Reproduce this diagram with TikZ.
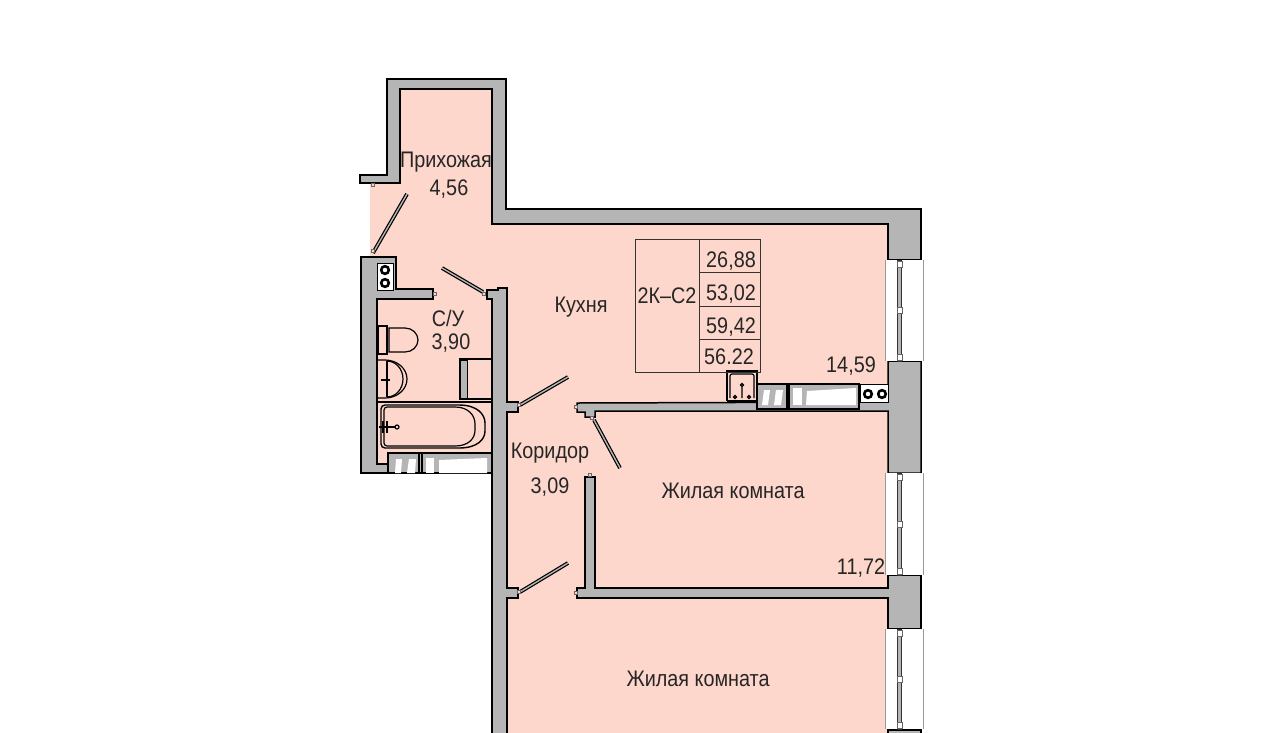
\documentclass[tikz,border=0pt]{standalone}
\usepackage{fontspec}
\setmainfont[FakeStretch=0.88]{Liberation Sans}
\definecolor{roompink}{RGB}{253, 214, 204}
\definecolor{wallgray}{RGB}{181, 181, 181}
\begin{document}
\begin{tikzpicture}[
        x=1pt, y=-1pt,
        wall/.style={draw=black, fill=wallgray, line width=1.5pt, line join=miter},
        roomlabel/.style={inner sep=0pt, yshift=-1.5pt, font=\fontsize{22.5}{24}\selectfont, text=black!85},
        doorleaf/.style={draw=black, line width=1.2pt, double=wallgray, double distance=1.4pt},
        fixture/.style={draw=black, line width=1.2pt},
        duct/.style={draw=black, fill=wallgray, line width=1.5pt},
        jamb/.style={draw=black!60, fill=roompink, line width=0.5pt},
        gridline/.style={draw=black!80, line width=0.9pt}
    ]
        \useasboundingbox (0,0) rectangle (1280,732);
        \clip (0,0) rectangle (1280,732);
        \fill[white] (0,0) rectangle (1280,732);

        % Room floor
        \fill[roompink] (392,85) -- (500,85) -- (500,215) -- (900,215) -- (900,740) -- (500,740)
            -- (500,470) -- (370,470) -- (370,180) -- (392,180) -- cycle;

        % Outer wall
        \draw[wall] (387,79) -- (506,79) -- (506,209) -- (921,209) -- (921,260) -- (888,260) -- (888,224)
            -- (492,224) -- (492,89) -- (400,89) -- (400,183) -- (360,183) -- (360,175) -- (387,175) -- cycle;

        % Bathroom and corridor wall
        \draw[wall] (361,257) -- (396,257) -- (396,289) -- (433,289) -- (433,299) -- (377,299) -- (377,464)
            -- (388,464) -- (388,453) -- (492,453) -- (492,299) -- (487,299) -- (487,290) -- (498,290)
            -- (498,288) -- (507,288) -- (507,402) -- (518,402) -- (518,412) -- (507,412) -- (507,588)
            -- (518,588) -- (518,598) -- (507,598) -- (507,740) -- (492,740) -- (492,473) -- (361,473) -- cycle;

        % Kitchen partition
        \draw[wall] (888,361) -- (921,361) -- (921,473) -- (888,473) -- (888,411) -- (595,411) -- (595,417)
            -- (585,417) -- (585,412) -- (577,412) -- (577,403) -- (888,402) -- cycle;

        % Room partition
        \draw[wall] (888,575) -- (921,575) -- (921,629) -- (888,629) -- (888,598) -- (577,598) -- (577,588)
            -- (585,588) -- (585,477) -- (595,477) -- (595,588) -- (888,588) -- cycle;
        \draw[wall] (888,730) rectangle (921,740);

        % Windows
        \foreach \ytop/\ybot in {260/361, 473/575, 629/729} {
            \fill[white] (885,\ytop) rectangle (923,\ybot);
            \draw[black!40, line width=0.5pt] (885,\ytop) -- (885,\ybot) (923,\ytop) -- (923,\ybot);
            \draw[draw=black!80, fill=wallgray, line width=0.8pt] (897,\ytop) rectangle (901,\ybot);
            \pgfmathsetmacro\ymid{(\ytop+\ybot)/2}
            \foreach \ywin in {\ytop+4, \ymid, \ybot-4} {
                \draw[jamb, fill=white] (897,\ywin-3) rectangle (902,\ywin+3);
            }
        }

        % Doors
        \draw[doorleaf] (373,253) -- (407,194);
        \draw[doorleaf] (442,268) -- (483,292);
        \draw[doorleaf] (520,405) -- (568,377);
        \draw[doorleaf] (520,592) -- (568,563);
        \draw[doorleaf] (594,420) -- (620,468);
        \foreach \xjamb/\yjamb in {373/251, 373/185, 435/294, 484/294, 519/405, 519/592, 576/407, 576/593, 592/418, 590/475} {
            \draw[jamb] (\xjamb-1.5,\yjamb-1.5) rectangle (\xjamb+1.5,\yjamb+1.5);
        }

        % Hall vent
        \draw[draw=black, fill=white, line width=1pt] (377,263) rectangle (393,290);
        \draw[draw=black, line width=2.6pt] (385,270) circle (3.8) (385,283) circle (3.8);

        % Toilet
        \draw[fixture] (378,326) rectangle (387,354);
        \draw[fixture] (389,328) -- (405,328) arc[start angle=90, end angle=-90, x radius=13, y radius=-12] -- (389,352) -- cycle;

        % Washbasin
        \draw[fixture] (378,360) -- (385,360) arc[start angle=90, end angle=-90, x radius=22, y radius=-19] -- (378,398);
        \draw[fixture] (387,361) arc[start angle=90, end angle=-90, x radius=16, y radius=-18];
        \draw[fixture] (387,361) -- (387,397);
        \draw[fixture] (381,380) -- (390,380);

        % Washer
        \draw[fixture] (460,359) rectangle (492,399);
        \draw[draw=black, fill=wallgray, line width=1pt] (460,360) rectangle (467,398);

        % Bath
        \draw[fixture] (378,402) -- (492,402);
        \draw[fixture, line width=1.4pt, rounded corners=4pt] (381,448) -- (381,405) -- (455,405)
            .. controls (478,405) and (485,415) .. (485,427) .. controls (485,439) and (478,448) .. (455,448) -- cycle;
        \draw[fixture, rounded corners=3pt] (384,446) -- (384,407) -- (452,407)
            .. controls (468,407) and (475,415) .. (475,427) .. controls (475,439) and (468,446) .. (452,446) -- cycle;
        \draw[draw=black, line width=1.8pt] (379,427) -- (395,427) (383,421) -- (383,433) (387,421) -- (387,433);
        \draw[fixture, fill=roompink] (397,427) circle (2);

        % Bathroom bottom ducts
        \draw[duct] (388,453) rectangle (419,473);
        \draw[duct] (422,453) rectangle (492,473);
        \fill[white] (396,459) -- (402,459) -- (401,473) -- (395,473) -- cycle;
        \fill[white] (409,459) -- (416,459) -- (415,473) -- (407,473) -- cycle;
        \fill[white] (426,458) rectangle (434,473);
        \fill[white] (439,460) -- (487,458) -- (487,473) -- (439,473) -- cycle;

        % Kitchen sink
        \draw[fixture, line width=1.2pt] (727,401) -- (727,371) -- (757,371) -- (757,401);
        \draw[fixture, rounded corners=2pt] (730,398) -- (730,374) -- (754,374) -- (754,398);
        \draw[fixture] (742,386) -- (742,398) (735,397) circle (1.5) (749,397) circle (1.5) (742,385) circle (1.5);
        \draw[fixture] (727,401) -- (757,401);

        % Kitchen units
        \draw[duct] (757,384) rectangle (787,409);
        \draw[duct] (789,384) rectangle (859,409);
        \fill[white] (764,390) -- (770,390) -- (768,405) -- (762,405) -- cycle;
        \fill[white] (776,390) -- (783,390) -- (781,405) -- (774,405) -- cycle;
        \fill[white] (793,388) rectangle (802,405);
        \fill[white] (807,391) -- (856,388) -- (856,405) -- (806,405) -- cycle;

        % Hob
        \draw[draw=black, fill=white, line width=1pt] (860,384) rectangle (888,402);
        \draw[draw=black, line width=2.6pt] (868,394) circle (3.8) (882,394) circle (3.8);

        % Flat table
        \draw[gridline] (635,239) rectangle (760,372);
        \draw[gridline] (699,239) -- (699,372);
        \foreach \yrow in {272, 306, 339} {
            \draw[gridline] (699,\yrow) -- (760,\yrow);
        }
        \node[roomlabel] (flattype) at (667,294) {2К–С2};
        \node[roomlabel] (areaA) at (731,260) {26,88};
        \node[roomlabel] (areaB) at (731,293) {53,02};
        \node[roomlabel] (areaC) at (731,326) {59,42};
        \node[roomlabel] (areaD) at (729,355) {56.22};

        % Room labels
        \node[roomlabel] (hall) at (446,161) {Прихожая};
        \node[roomlabel] (hallarea) at (449,188) {4,56};
        \node[roomlabel] (bath) at (448,317) {С/У};
        \node[roomlabel] (batharea) at (451,342) {3,90};
        \node[roomlabel] (kitchen) at (581,306) {Кухня};
        \node[roomlabel] (kitchenarea) at (851,365) {14,59};
        \node[roomlabel] (corridor) at (550,452) {Коридор};
        \node[roomlabel] (corridorarea) at (550,486) {3,09};
        \node[roomlabel] (roomA) at (733,489) {Жилая комната};
        \node[roomlabel] (roomAarea) at (861,567) {11,72};
        \node[roomlabel] (roomB) at (698,677) {Жилая комната};
    \end{tikzpicture}
\end{document}
